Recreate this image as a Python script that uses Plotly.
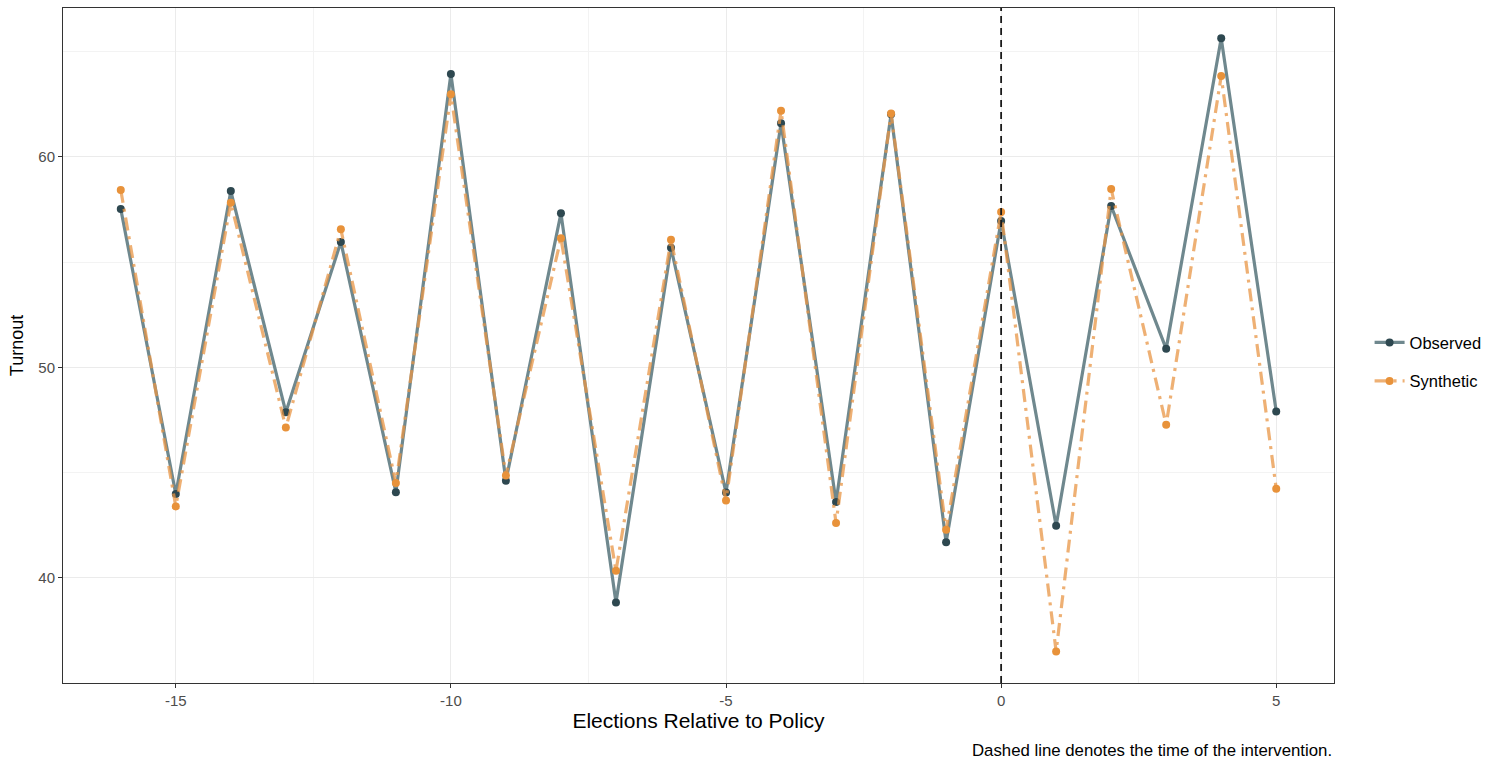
import plotly.graph_objects as go

# Data
elections = [-16, -15, -14, -13, -12, -11, -10, -9, -8, -7, -6, -5, -4, -3, -2, -1, 0, 1, 2, 3, 4, 5]
observed = [57.53, 43.98, 58.38, 47.87, 55.96, 44.07, 63.94, 44.61, 57.32, 38.83, 55.68,
            44.05, 61.60, 43.60, 62.03, 41.69, 56.96, 42.47, 57.67, 50.88, 65.64, 47.90]
synthetic = [58.43, 43.39, 57.83, 47.14, 56.56, 44.50, 62.98, 44.86, 56.14, 40.33, 56.06,
             43.67, 62.20, 42.60, 62.07, 42.28, 57.39, 36.50, 58.48, 47.27, 63.85, 44.23]
intervention = 0
x_ticks = [-15, -10, -5, 0, 5]
y_ticks = [40, 50, 60]

FONT = "Liberation Sans, Arial, sans-serif"

fig = go.Figure()
fig.add_trace(go.Scatter(
    x=elections, y=observed, name="Observed", mode="lines+markers",
    line=dict(color="#6f888e", width=3.2),
    marker=dict(color="#2e4850", size=8),
    legendgroup="a",
))
fig.add_trace(go.Scatter(
    x=elections, y=synthetic, name="Synthetic", mode="lines+markers",
    line=dict(color="rgba(232,150,70,0.75)", width=3.2, dash="13px,6px,3px,6px"),
    marker=dict(color="#e8923a", size=8),
    legendgroup="b",
))

fig.add_vline(x=intervention, line=dict(color="#1a1a1a", width=1.8, dash="7px,5px"))

fig.add_annotation(
    text="Dashed line denotes the time of the intervention.",
    xref="paper", yref="paper", x=1.0, y=-0.083, xanchor="right", yanchor="top",
    showarrow=False, font=dict(family=FONT, size=16.8, color="#000000"),
)

fig.update_xaxes(
    range=[-17.05, 6.05], tickvals=x_ticks, ticktext=[str(v) for v in x_ticks],
    showgrid=True, gridcolor="#ebebeb", gridwidth=1.2,
    minor=dict(dtick=2.5, tick0=-15, showgrid=True, gridcolor="#f3f3f3", gridwidth=0.8),
    showline=True, linecolor="#333333", linewidth=1, mirror=True,
    ticks="outside", ticklen=4, tickcolor="#333333", tickwidth=1,
    tickfont=dict(family=FONT, size=15, color="#4d4d4d"),
    title=dict(text="Elections Relative to Policy", font=dict(family=FONT, size=21, color="#000000"), standoff=4),
    zeroline=False, automargin=False,
)
fig.update_yaxes(
    range=[35.0, 67.08], tickvals=y_ticks, ticktext=[str(v) for v in y_ticks],
    showgrid=True, gridcolor="#ebebeb", gridwidth=1.2,
    minor=dict(dtick=5, tick0=35, showgrid=True, gridcolor="#f3f3f3", gridwidth=0.8),
    showline=True, linecolor="#333333", linewidth=1, mirror=True,
    ticks="outside", ticklen=4, tickcolor="#333333", tickwidth=1,
    tickfont=dict(family=FONT, size=15, color="#4d4d4d"),
    title=dict(text="Turnout", font=dict(family=FONT, size=18, color="#000000"), standoff=10),
    zeroline=False, automargin=False,
)

fig.update_layout(
    width=1498, height=765,
    margin=dict(l=63, r=164, t=8, b=82, autoexpand=False),
    paper_bgcolor="white", plot_bgcolor="white",
    legend=dict(x=1.028, y=0.476, xanchor="left", yanchor="middle",
                font=dict(family=FONT, size=16.5, color="#000000"),
                traceorder="grouped", tracegroupgap=14, itemwidth=30),
    showlegend=True,
)

fig.write_html("out.html", config={"displayModeBar": False},
               post_script="document.body.style.margin='0px';document.body.style.padding='0px';")
